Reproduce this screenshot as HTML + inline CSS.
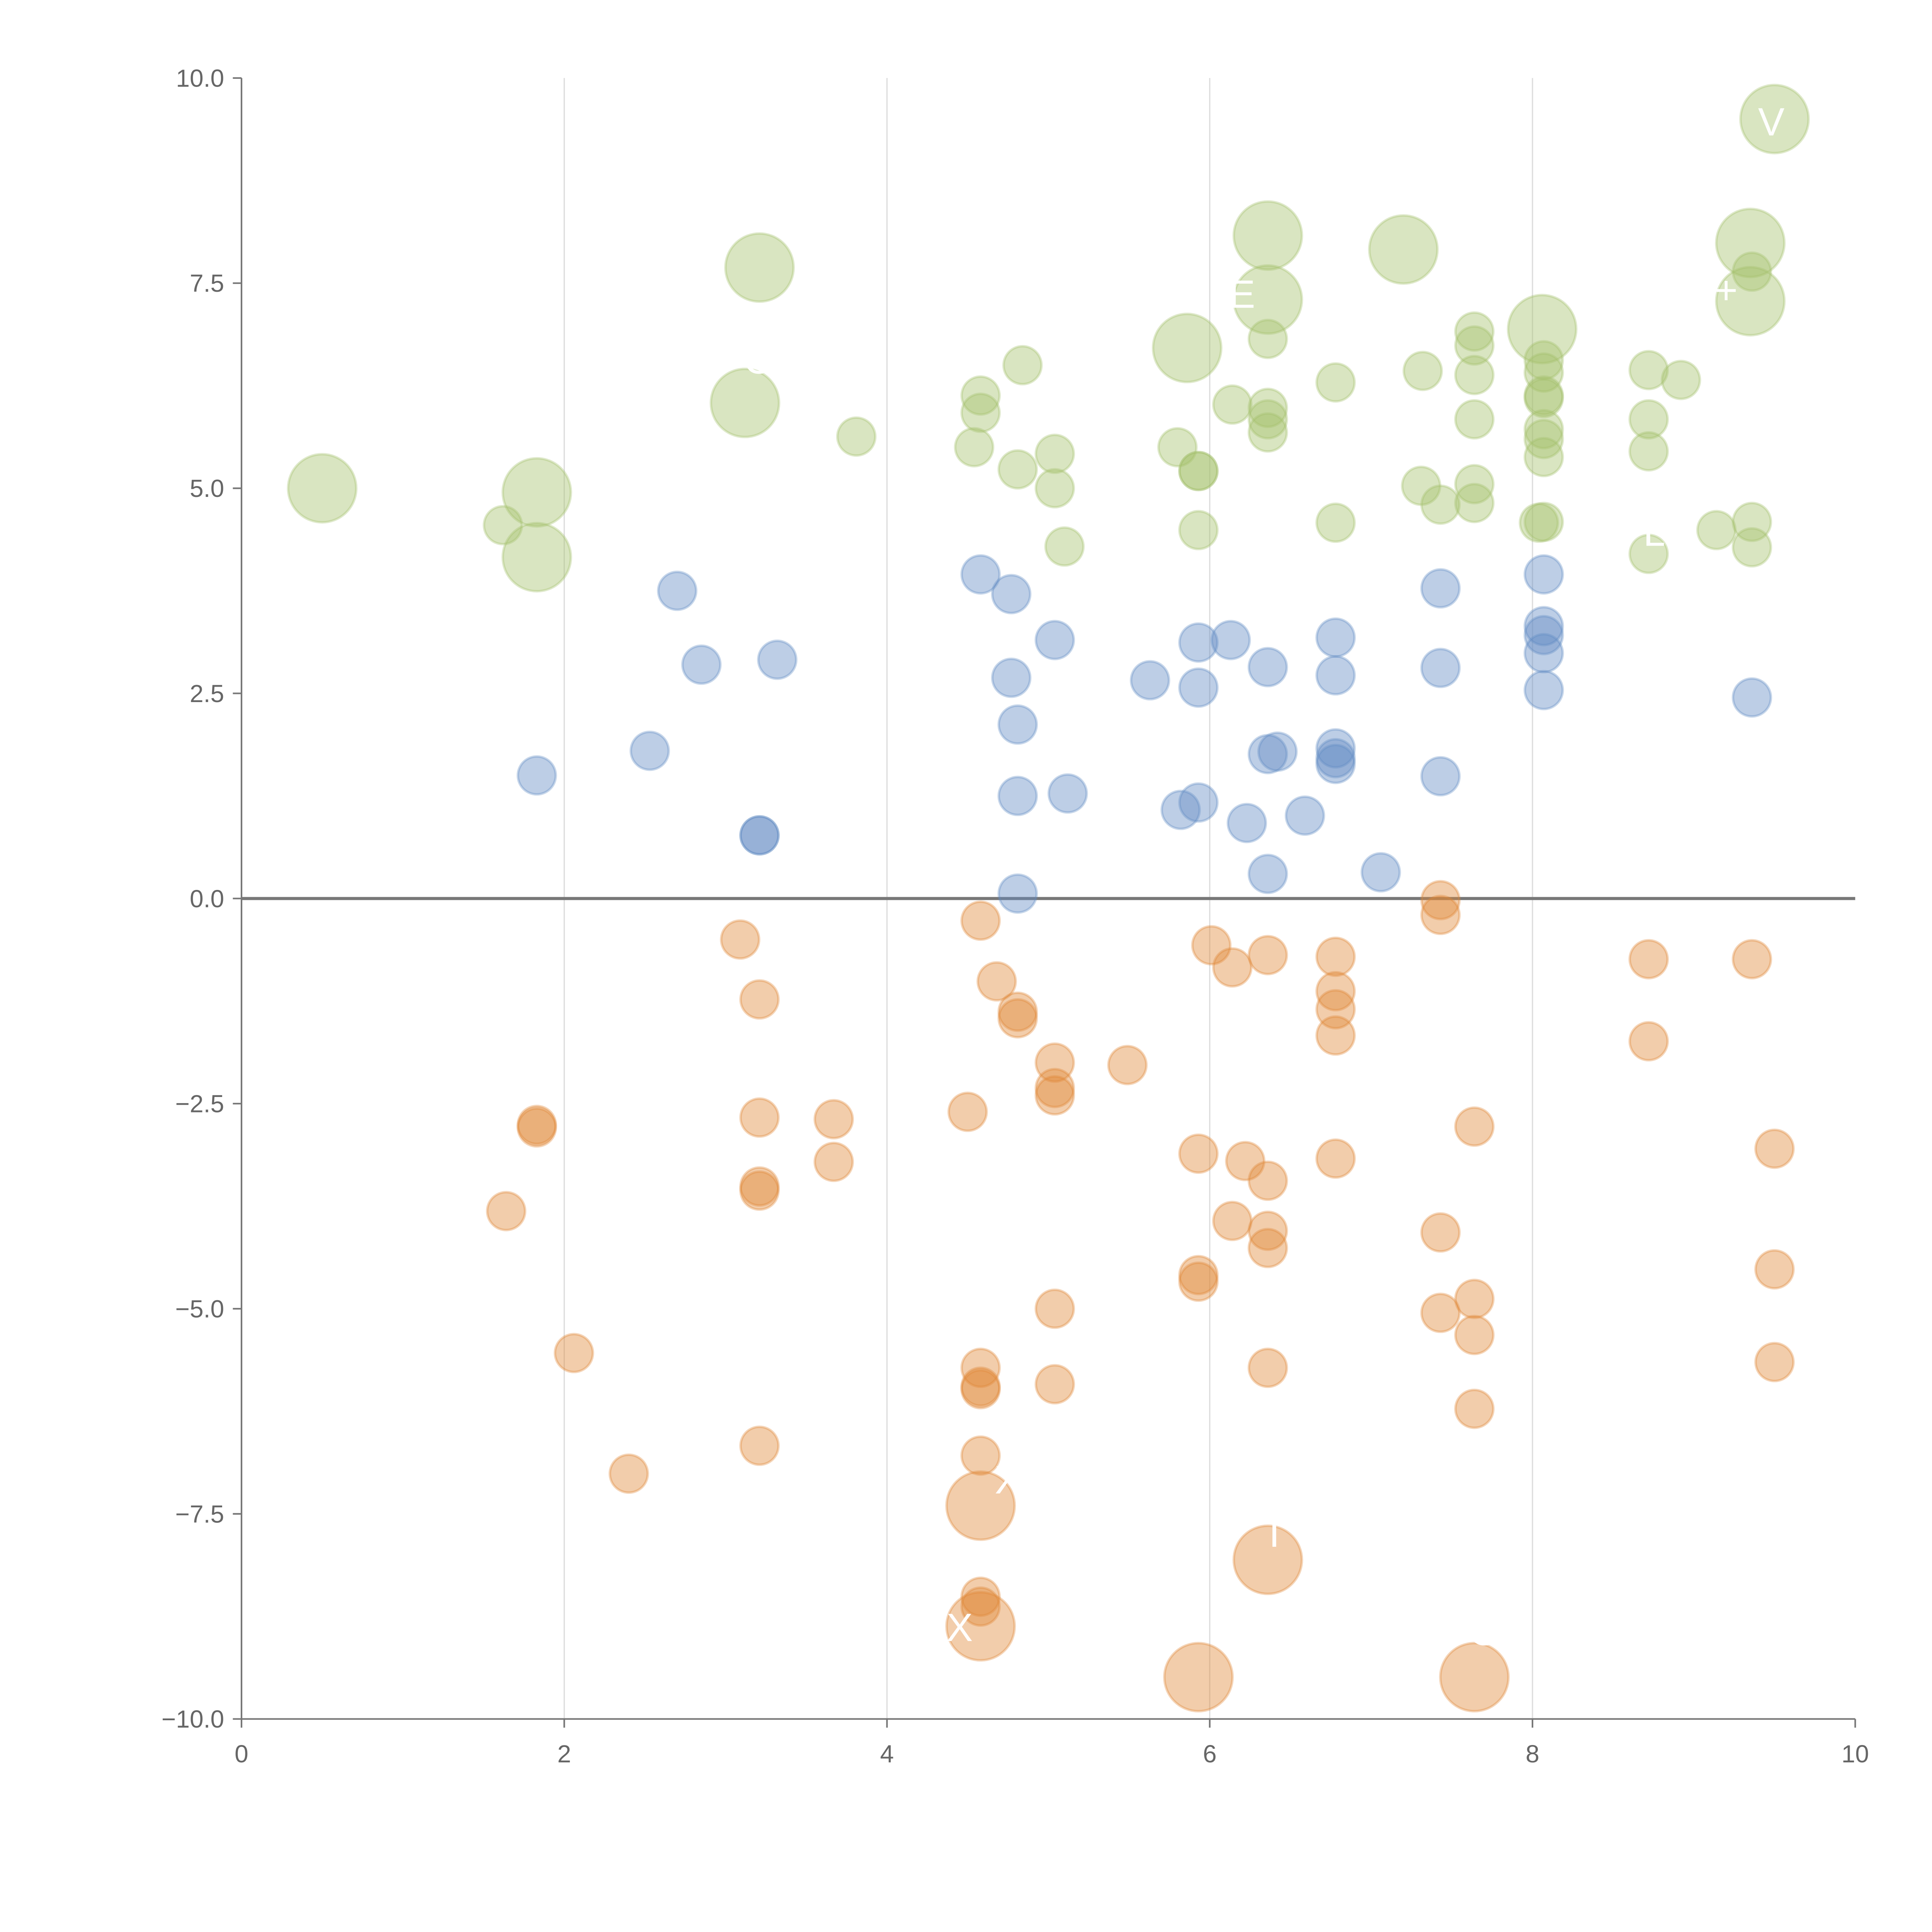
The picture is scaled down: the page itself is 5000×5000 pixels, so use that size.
<!DOCTYPE html>
<html><head><meta charset="utf-8"><style>
html,body{margin:0;padding:0;background:#fff;}
svg{display:block;}
text{font-family:"Liberation Sans",Arial,sans-serif;}
</style></head><body>
<svg id="chart" width="5000" height="5000" viewBox="0 0 1560 1560" xmlns="http://www.w3.org/2000/svg">
<g id="grid"></g>
<g id="axes"></g>
<g id="marks"></g>
<g id="labels"></g>
</svg>
<script>
const xTicks=[0,2,4,6,8,10];
const yTicks=[10,7.5,5,2.5,0,-2.5,-5,-7.5,-10];
const yTickLabels=["10.0","7.5","5.0","2.5","0.0","\u22122.5","\u22125.0","\u22127.5","\u221210.0"];
const greenX=[0.50,1.83,1.83,1.62,3.21,3.12,3.81,4.58,4.58,4.54,4.84,4.81,5.04,5.04,5.10,5.86,5.80,5.93,5.93,5.93,6.14,6.36,6.36,6.36,6.36,6.36,6.36,6.78,6.78,7.20,7.32,7.31,7.43,7.64,7.64,7.64,7.64,7.64,7.64,8.06,8.07,8.07,8.07,8.07,8.07,8.07,8.07,8.04,8.07,8.72,8.72,8.72,8.72,8.92,9.14,9.35,9.35,9.36,9.36,9.36,9.50];
const greenY=[5.00,4.95,4.16,4.55,7.69,6.04,5.63,6.13,5.92,5.50,6.50,5.23,5.42,5.00,4.29,6.71,5.50,5.21,5.21,4.49,6.02,8.08,7.30,6.82,5.98,5.84,5.68,6.29,4.58,7.91,6.43,5.03,4.80,6.91,6.74,6.38,5.84,5.05,4.82,6.94,6.56,6.41,6.13,6.10,5.72,5.60,5.38,4.58,4.59,6.44,5.84,5.45,4.20,6.32,4.49,7.99,7.28,7.64,4.59,4.28,9.50];
const greenBig=[1,1,1,0,1,1,0,0,0,0,0,0,0,0,0,1,0,0,0,0,0,1,1,0,0,0,0,0,0,1,0,0,0,0,0,0,0,0,0,1,0,0,0,0,0,0,0,0,0,0,0,0,0,0,0,1,1,0,0,0,1];
const blueX=[1.83,2.53,2.70,2.85,3.21,3.21,3.32,4.58,4.77,4.77,4.81,4.81,4.81,5.04,5.12,5.63,5.82,5.93,5.93,5.93,6.13,6.23,6.36,6.36,6.42,6.36,6.59,6.78,6.78,6.78,6.78,6.78,7.06,7.43,7.43,7.43,8.07,8.07,8.07,8.07,8.07,9.36];
const blueY=[1.50,1.80,3.75,2.85,0.77,0.77,2.91,3.95,3.71,2.69,2.12,1.25,0.06,3.15,1.28,2.66,1.08,3.12,2.57,1.17,3.15,0.92,2.82,1.76,1.79,0.30,1.01,3.18,2.72,1.83,1.71,1.64,0.32,3.78,2.81,1.49,3.95,3.32,3.21,2.99,2.54,2.45];
const orangeX=[1.64,1.83,1.83,2.06,2.40,3.09,3.21,3.21,3.21,3.21,3.21,3.67,3.67,4.50,4.58,4.58,4.58,4.58,4.58,4.58,4.58,4.58,4.58,4.68,4.81,4.81,5.04,5.04,5.04,5.04,5.04,5.49,5.93,5.93,5.93,5.93,6.01,6.14,6.14,6.22,6.36,6.36,6.36,6.36,6.36,6.36,6.78,6.78,6.78,6.78,6.78,7.43,7.43,7.43,7.43,7.64,7.64,7.64,7.64,7.64,8.72,8.72,9.36,9.50,9.50,9.50];
const orangeY=[-3.81,-2.76,-2.79,-5.54,-7.01,-0.50,-1.23,-2.67,-3.51,-3.56,-6.67,-2.69,-3.21,-2.60,-0.27,-5.72,-5.95,-5.98,-6.79,-7.40,-8.51,-8.63,-8.87,-1.01,-1.38,-1.46,-2.00,-2.31,-2.40,-5.00,-5.92,-2.03,-3.11,-4.59,-4.67,-9.49,-0.57,-0.84,-3.93,-3.20,-0.69,-3.44,-4.05,-4.26,-5.72,-8.06,-0.71,-1.13,-1.35,-1.67,-3.17,-0.02,-0.20,-4.07,-5.05,-2.78,-4.88,-5.32,-6.22,-9.49,-0.74,-1.74,-0.74,-3.05,-4.52,-5.65];
const orangeBig=[0,0,0,0,0,0,0,0,0,0,0,0,0,0,0,0,0,0,0,1,0,0,1,0,0,0,0,0,0,0,0,0,0,0,0,1,0,0,0,0,0,0,0,0,0,1,0,0,0,0,0,0,0,0,0,0,0,0,0,1,0,0,0,0,0,0];
const NS="http://www.w3.org/2000/svg";
const X0=195,X1=1498,Y0=1388,Y1=63;
function sx(v){return X0+(v-0)/10*(X1-X0);}
function sy(v){return Y0-(v+10)/20*(Y0-Y1);}
function mk(t,a,p){const e=document.createElementNS(NS,t);for(const k in a)e.setAttribute(k,a[k]);p.appendChild(e);return e;}
const grid=document.getElementById('grid'),axes=document.getElementById('axes'),marks=document.getElementById('marks'),labels=document.getElementById('labels');
[2,4,6,8].forEach(v=>{const l=mk('line',{x1:sx(v),x2:sx(v),y1:Y1,y2:Y0,stroke:'#dcdcdc','stroke-width':1},grid);

});
let a=mk('line',{x1:X0,x2:X0,y1:Y1,y2:Y0,stroke:'#777','stroke-width':1.3},axes);


a=mk('line',{x1:X0,x2:X1,y1:Y0,y2:Y0,stroke:'#777','stroke-width':1.3},axes);


a=mk('line',{x1:X0,x2:X1,y1:sy(0),y2:sy(0),stroke:'#777','stroke-width':2.5},axes);


xTicks.forEach(v=>{const t=mk('line',{x1:sx(v),x2:sx(v),y1:Y0,y2:Y0+7,stroke:'#777','stroke-width':1.3},axes);


const tx=mk('text',{x:sx(v),y:Y0+35,'text-anchor':'middle','font-size':20,fill:'#666'},axes);tx.textContent=v;

});
yTicks.forEach((v,i)=>{const t=mk('line',{x1:X0-7,x2:X0,y1:sy(v),y2:sy(v),stroke:'#777','stroke-width':1.3},axes);


const tx=mk('text',{x:X0-14,y:sy(v)+7,'text-anchor':'end','font-size':20,fill:'#666'},axes);tx.textContent=yTickLabels[i];

});
function series(xs,ys,big,col,name){xs.forEach((x,i)=>{const r=(big&&big[i])?27.5:15.3;
const c=mk('circle',{cx:sx(x),cy:sy(ys[i]),r:r,fill:col,'fill-opacity':0.42,stroke:col,'stroke-opacity':0.35,'stroke-width':2},marks);

});}
series(greenX,greenY,greenBig,'#a4c16c','bubble-green');
series(blueX,blueY,null,'#618bc3','bubble-blue');
series(orangeX,orangeY,orangeBig,'#e08737','bubble-orange');
const lab=[[9.48,9.3,"V"],[6.2,7.2,"E"],[9.2,7.25,"+"],[4.75,-7.25,"X"],[4.45,-9.05,"X"],[6.4,-7.9,"I"],[7.7,-9.1,"G"],[3.2,6.4,"C"],[4.9,5.7,"A"],[8.85,4.3,"LO"]];
lab.forEach(l=>{const t=mk('text',{x:sx(l[0]),y:sy(l[1]),'text-anchor':'middle','font-size':32,fill:'#fff'},labels);t.textContent=l[2];

});
</script>
</body></html>
